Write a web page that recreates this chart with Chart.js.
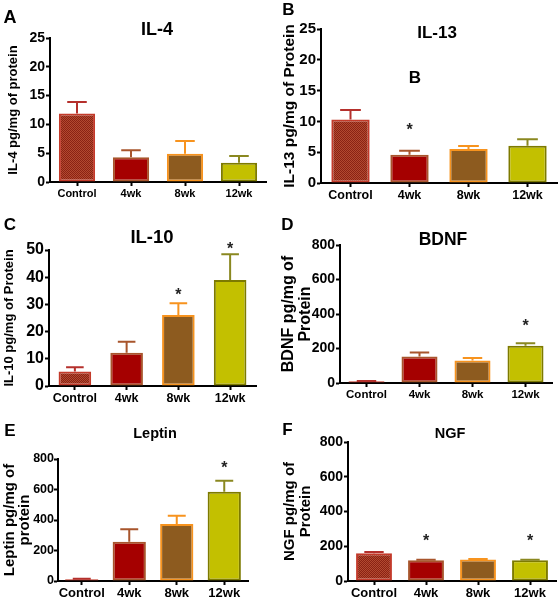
<!DOCTYPE html>
<html><head><meta charset="utf-8">
<script src="https://cdn.jsdelivr.net/npm/chart.js@4"></script>
<style>
html,body{margin:0;padding:0;background:#fff;}
body{width:560px;height:601px;position:relative;overflow:hidden;font-family:'Liberation Sans',Arial,sans-serif;}
canvas{position:absolute;}
.t{position:absolute;font-weight:bold;color:#000;transform:translate(-50%,-50%);white-space:nowrap;line-height:1;}
</style></head><body>
<script>
// ---- data ----
const categories = ['Control', '4wk', '8wk', '12wk'];

const il4Mean = [11.9, 4.3, 4.9, 3.35];
const il4Sem = [2.0, 1.2, 2.2, 1.15];
const il4Star = [null, null, null, null];
const il4Ticks = [0, 5, 10, 15, 20, 25];

const il13Mean = [10.3, 4.6, 5.5, 6.05];
const il13Sem = [1.55, 0.65, 0.5, 1.05];
const il13Star = [null, 9.25, null, null];
const il13Ticks = [0, 5, 10, 15, 20, 25];

const il10Mean = [5.3, 12.2, 26.1, 39.0];
const il10Sem = [1.6, 4.1, 4.3, 9.4];
const il10Star = [null, null, 35, 51.8];
const il10Ticks = [0, 10, 20, 30, 40, 50];

const bdnfMean = [10, 154, 131, 216];
const bdnfSem = [2, 23, 14, 15];
const bdnfStar = [null, null, null, 356];
const bdnfTicks = [0, 200, 400, 600, 800];

const leptinMean = [12, 258, 374, 585];
const leptinSem = [2, 81, 54, 73];
const leptinStar = [null, null, null, 767];
const leptinTicks = [0, 200, 400, 600, 800];

const ngfMean = [160, 120, 124, 120];
const ngfSem = [7, 3, 3, 3];
const ngfStar = [null, 254, null, 254];
const ngfTicks = [0, 200, 400, 600, 800];

// ---- styles ----
const FONT = "'Liberation Sans', Arial, sans-serif";
function makePattern() {
  const c = document.createElement('canvas');
  c.width = 4; c.height = 4;
  const g = c.getContext('2d');
  g.fillStyle = '#b24a30'; g.fillRect(0, 0, 4, 4);
  g.fillStyle = '#8a2214';
  for (let y = 0; y < 4; y++) for (let x = 0; x < 4; x++) if ((x + y) % 2 === 0) g.fillRect(x, y, 1, 1);
  return g.createPattern(c, 'repeat');
}
const fills = [makePattern(), '#a50000', '#8d5b1f', '#c3c000'];
const borders = ['#c33a2a', '#a8552c', '#f7931e', '#7d7a00'];
const errColors = ['#b5302c', '#a8552c', '#f7931e', '#8a8820'];

const errPlugin = {
  id: 'errbars',
  afterDatasetsDraw(chart) {
    const p = chart.options.plugins.errbars;
    const meta = chart.getDatasetMeta(0);
    const ys = chart.scales.y;
    const ctx = chart.ctx;
    ctx.save();
    meta.data.forEach((bar, i) => {
      const top = ys.getPixelForValue(p.mean[i]);
      const et = ys.getPixelForValue(p.mean[i] + p.sem[i]);
      const hw = bar.width * 0.27;
      ctx.strokeStyle = errColors[i];
      ctx.lineWidth = 2;
      ctx.beginPath();
      ctx.moveTo(bar.x, top);
      ctx.lineTo(bar.x, et);
      ctx.moveTo(bar.x - hw, et);
      ctx.lineTo(bar.x + hw, et);
      ctx.stroke();
      if (p.star[i] !== null) {
        const sy = ys.getPixelForValue(p.star[i]);
        ctx.fillStyle = '#222';
        ctx.font = 'bold 16px ' + FONT;
        ctx.textAlign = 'center';
        ctx.textBaseline = 'alphabetic';
        ctx.fillText('*', bar.x, sy + 0.575 * 16);
      }
    });
    ctx.restore();
  }
};

function panel(cfg) {
  const cv = document.createElement('canvas');
  cv.width = cfg.w; cv.height = cfg.h;
  cv.style.left = cfg.x + 'px'; cv.style.top = cfg.y + 'px';
  cv.style.width = cfg.w + 'px'; cv.style.height = cfg.h + 'px';
  document.body.appendChild(cv);
  new Chart(cv.getContext('2d'), {
    type: 'bar',
    data: {
      labels: categories,
      datasets: [{
        data: cfg.mean,
        backgroundColor: fills,
        borderColor: borders,
        borderWidth: 2,
        borderSkipped: false,
        barPercentage: cfg.bp,
        categoryPercentage: 1
      }]
    },
    options: {
      responsive: false,
      animation: false,
      devicePixelRatio: 1,
      layout: { padding: { top: cfg.padTop, right: cfg.padRight, left: 0, bottom: 0 } },
      plugins: {
        legend: { display: false },
        tooltip: { enabled: false },
        title: { display: false },
        errbars: { mean: cfg.mean, sem: cfg.sem, star: cfg.star }
      },
      scales: {
        x: {
          offset: true,
          grid: { display: true, drawOnChartArea: false, offset: false, color: '#000', tickColor: '#000', tickWidth: 2, tickLength: 4 },
          border: { display: true, color: '#000', width: 2 },
          ticks: { color: '#000', font: { family: FONT, weight: 'bold', size: cfg.xFont }, padding: 1, maxRotation: 0, autoSkip: false },
          afterFit(s) { s.height = cfg.xh; }
        },
        y: {
          min: 0,
          max: cfg.ticks[cfg.ticks.length - 1],
          afterBuildTicks(s) { s.ticks = cfg.ticks.map(v => ({ value: v })); },
          grid: { display: true, drawOnChartArea: false, color: '#000', tickColor: '#000', tickWidth: 2, tickLength: 4 },
          border: { display: true, color: '#000', width: 2 },
          ticks: { color: '#000', font: { family: FONT, weight: 'bold', size: cfg.yFont }, padding: cfg.yPad },
          title: {
            display: true, text: cfg.yTitle, color: '#000',
            font: { family: FONT, weight: 'bold', size: cfg.tFont, lineHeight: cfg.tLh },
            padding: { top: cfg.tPad, bottom: 0 }
          },
          afterFit(s) { s.width = cfg.yw; }
        }
      }
    },
    plugins: [errPlugin]
  });
}

function label(text, x, y, size) {
  const d = document.createElement('div');
  d.className = 't';
  d.textContent = text;
  d.style.left = x + 'px'; d.style.top = y + 'px';
  d.style.fontSize = size + 'px';
  document.body.appendChild(d);
}

panel({ x: 0, y: 0, w: 280, h: 200, yw: 50, padTop: 38, padRight: 14, xh: 18, bp: 0.67,
  mean: il4Mean, sem: il4Sem, star: il4Star, ticks: il4Ticks,
  xFont: 11, yFont: 14, yPad: 1, yTitle: 'IL-4 pg/mg of protein', tFont: 13, tLh: 1.2, tPad: 6 });
panel({ x: 280, y: 0, w: 280, h: 200, yw: 41, padTop: 29, padRight: 3, xh: 17, bp: 0.65,
  mean: il13Mean, sem: il13Sem, star: il13Star, ticks: il13Ticks,
  xFont: 12.5, yFont: 15, yPad: 1, yTitle: 'IL-13 pg/mg of Protein', tFont: 15.5, tLh: 1.2, tPad: 0 });
panel({ x: 0, y: 205, w: 280, h: 200, yw: 49, padTop: 45, padRight: 24, xh: 19, bp: 0.63,
  mean: il10Mean, sem: il10Sem, star: il10Star, ticks: il10Ticks,
  xFont: 12.5, yFont: 16, yPad: 1, yTitle: 'IL-10 pg/mg of Protein', tFont: 13, tLh: 1.2, tPad: 2 });
panel({ x: 280, y: 205, w: 280, h: 200, yw: 60, padTop: 40, padRight: 8, xh: 22, bp: 0.68,
  mean: bdnfMean, sem: bdnfSem, star: bdnfStar, ticks: bdnfTicks,
  xFont: 11.5, yFont: 14, yPad: 1, yTitle: ['BDNF pg/mg of', 'Protein'], tFont: 16, tLh: 1.06, tPad: 0 });
panel({ x: 0, y: 405, w: 280, h: 196, yw: 58, padTop: 54, padRight: 32, xh: 20, bp: 0.7,
  mean: leptinMean, sem: leptinSem, star: leptinStar, ticks: leptinTicks,
  xFont: 13, yFont: 12.5, yPad: 0, yTitle: ['Leptin pg/mg of', 'protein'], tFont: 15, tLh: 1.05, tPad: 1.5 });
panel({ x: 280, y: 405, w: 280, h: 196, yw: 68, padTop: 37, padRight: 4, xh: 20, bp: 0.69,
  mean: ngfMean, sem: ngfSem, star: ngfStar, ticks: ngfTicks,
  xFont: 13, yFont: 14, yPad: 1, yTitle: ['NGF pg/mg of', 'Protein'], tFont: 15, tLh: 1.07, tPad: 2 });

// panel titles
label('IL-4', 157, 29, 18);
label('IL-13', 437, 32, 17);
label('IL-10', 152, 237, 18.5);
label('BDNF', 443, 240, 17.5);
label('Leptin', 155, 433, 14.5);
label('NGF', 450, 433, 14.5);
// inner label in panel B
label('B', 415, 77, 17);
// panel letters
label('A', 10, 16.5, 18);
label('B', 288.5, 9, 17);
label('C', 10, 223.5, 17);
label('D', 287.5, 223.5, 17);
label('E', 10, 430, 17);
label('F', 287.5, 429, 17);
</script>
</body></html>
